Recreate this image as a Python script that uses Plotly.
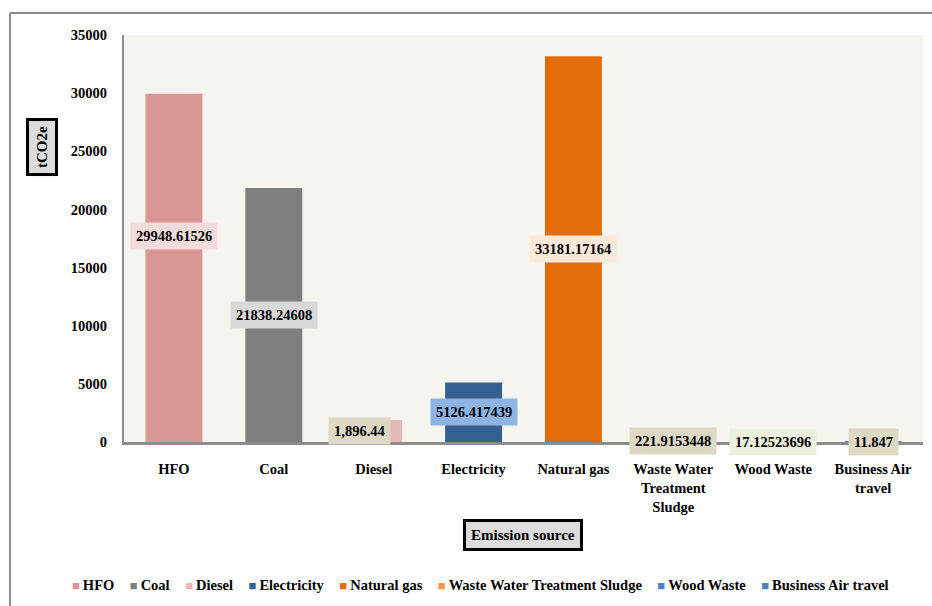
import plotly.graph_objects as go

# ---- data ----
categories = ["HFO", "Coal", "Diesel", "Electricity", "Natural gas",
              "Waste Water Treatment Sludge", "Wood Waste", "Business Air travel"]
tick_labels = ["HFO", "Coal", "Diesel", "Electricity", "Natural gas",
               "Waste Water<br>Treatment<br>Sludge", "Wood Waste", "Business Air<br>travel"]
values = [29948.61526, 21838.24608, 1896.44, 5126.417439, 33181.17164,
          221.9153448, 17.12523696, 11.847]
label_texts = ["29948.61526", "21838.24608", "1,896.44", "5126.417439", "33181.17164",
               "221.9153448", "17.12523696", "11.847"]

# ---- styles ----
bar_colors = ["#D99694", "#7F7F7F", "#E6B9B8", "#376092", "#E46C0A",
              "#F79646", "#4F81BD", "#4F81BD"]
label_bg = ["#F2DCDB", "#D9D9D9", "#DDD9C4", "#8DB4E2", "#FDE9D9",
            "#DDD9C4", "#EBF1DE", "#DDD9C4"]
label_xshift = [0, 0, -14, 0, 0, 0, 0, 0]
label_yshift = [32, 0, 0, 0, 0, 0, 0, 0]

FONT = "Liberation Serif, Times New Roman, serif"

fig = go.Figure()
for cat, tl, v, c in zip(categories, tick_labels, values, bar_colors):
    fig.add_trace(go.Bar(x=[tl], y=[v], name=cat, marker=dict(color=c, line=dict(width=0)),
                         width=0.57, showlegend=False))

annotations = []
for tl, v, txt, bg, xs, ys in zip(tick_labels, values, label_texts, label_bg,
                                  label_xshift, label_yshift):
    annotations.append(dict(x=tl, y=v / 2, xref="x", yref="y", text=txt, showarrow=False,
                            bgcolor=bg, borderpad=5, xshift=xs, yshift=ys,
                            font=dict(family=FONT, size=14.5, color="black", weight="bold")))

# axis titles in boxes
annotations.append(dict(x=-0.1026, y=0.7248, xref="paper", yref="paper", text="tCO2e",
                        xanchor="center", yanchor="middle",
                        textangle=-90, showarrow=False, bgcolor="#DCDCDC",
                        bordercolor="black", borderwidth=3, borderpad=5,
                        font=dict(family=FONT, size=15, color="black", weight="bold")))
annotations.append(dict(x=0.4994, y=-0.2285, xref="paper", yref="paper", text="Emission source",
                        xanchor="center", yanchor="middle",
                        showarrow=False, bgcolor="#DCDCDC",
                        bordercolor="black", borderwidth=3, borderpad=5,
                        font=dict(family=FONT, size=15, color="black", weight="bold")))

# legend row
parts = []
for cat, c in zip(categories, bar_colors):
    parts.append(f'<span style="color:{c};font-size:13px">■</span>'
                 f'<span style="font-size:12px">&nbsp;</span>{cat}')
legend_text = '<span style="font-size:15.5px">&nbsp;&nbsp;&nbsp;&nbsp;</span>'.join(parts)
annotations.append(dict(x=-0.0676, y=-0.351, xref="paper", yref="paper", xanchor="left",
                        yanchor="middle", text=legend_text, showarrow=False,
                        font=dict(family=FONT, size=14.5, color="black", weight="bold")))

shapes = [
    dict(type="line", xref="paper", yref="paper", x0=-0.1427, x1=-0.1427, y0=1.054, y1=-0.41,
         line=dict(color="#8C8C8C", width=2)),
    dict(type="line", xref="paper", yref="paper", x0=-0.1427, x1=1.02, y0=1.054, y1=1.054,
         line=dict(color="#8C8C8C", width=2)),
]

fig.update_layout(
    width=932, height=606,
    margin=dict(l=124, r=9, t=35, b=164),
    paper_bgcolor="white", plot_bgcolor="#F5F4EE",
    barmode="overlay",
    showlegend=False,
    font=dict(family=FONT, size=14, color="black"),
    annotations=annotations,
    shapes=shapes,
)
fig.update_xaxes(showline=True, linecolor="#8C8C8C", linewidth=3, showgrid=False,
                 ticks="", ticklabelstandoff=12,
                 tickfont=dict(family=FONT, size=14.5, color="black", weight="bold"))
fig.update_yaxes(range=[0, 35000], dtick=5000, tickformat="d", showline=True,
                 linecolor="#8C8C8C", linewidth=2, showgrid=False, zeroline=False,
                 ticks="", ticklabelstandoff=12,
                 tickfont=dict(family=FONT, size=14.5, color="black", weight="bold"))

fig.write_html("out.html")
